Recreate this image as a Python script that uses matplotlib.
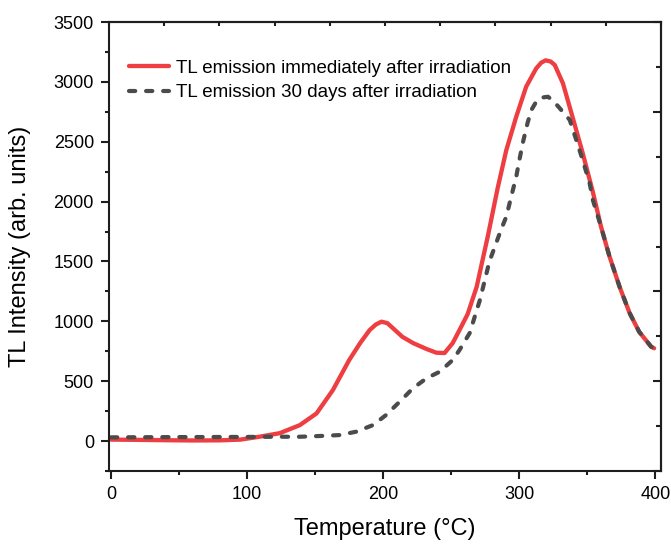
import matplotlib
matplotlib.use("Agg")
import matplotlib.pyplot as plt
from matplotlib.ticker import MultipleLocator, FixedLocator

plt.rcParams['font.family'] = ['Liberation Sans', 'DejaVu Sans']

# Series 1: TL emission immediately after irradiation
t_red = [0, 20, 40, 60, 80, 95, 109, 124, 138.7, 151, 163, 175, 183, 190, 194.5, 198.7,
         203, 207, 214, 222, 232, 239, 245, 251, 256, 262, 268.6, 277, 284, 290.4, 297.7,
         305, 312.4, 316, 319.3, 323, 326, 332, 339, 346.5, 354, 360, 366, 373.6, 381,
         388, 396.8, 399]
i_red = [12, 10, 7, 5, 6, 12, 36, 66, 133, 231, 426, 677, 818, 927, 973, 997,
         985, 944, 871, 818, 768, 738, 735, 818, 927, 1060, 1287, 1720, 2110, 2430, 2709,
         2960, 3113, 3160, 3180, 3170, 3141, 2988, 2709, 2406, 2080, 1790, 1550, 1289, 1069,
         913, 788, 775]

# Series 2: TL emission 30 days after irradiation
t_gray = [0, 40, 80, 109, 124, 138.7, 153, 168, 180, 192.6, 202, 212, 222, 232, 241.5,
          251, 256, 263.5, 271, 278, 286.7, 290.4, 294, 297.7, 300, 302.5, 306, 308.8,
          312.4, 316, 321, 325, 329.5, 337, 341.8, 346.5, 351.6, 354, 360, 366, 373.6,
          381, 388, 396.8, 399]
i_gray = [31, 33, 34, 35, 36, 36, 42, 50, 78, 134, 217, 328, 443, 526, 579,
          677, 760, 902, 1178, 1500, 1770, 1874, 2041, 2208, 2347, 2490, 2656, 2765,
          2835, 2868, 2876, 2840, 2782, 2682, 2515, 2347, 2155, 2013, 1790, 1550, 1289,
          1069, 913, 788, 775]

labels = ['TL emission immediately after irradiation', 'TL emission 30 days after irradiation']

X0, X1 = -1.5, 404
Y0, Y1 = -250, 3500

fig = plt.figure(figsize=(6.71, 5.45), dpi=100)
ax = fig.add_axes([0.1624, 0.1358, 0.8226, 0.8238])

ax.plot(t_red, i_red, color='#ee3e41', lw=3.1, label=labels[0],
        solid_capstyle='round', solid_joinstyle='round')
ax.plot(t_gray, i_gray, color='#4b4b4b', lw=3.0, dashes=(1.5, 2.6), label=labels[1],
        dash_capstyle='round', dash_joinstyle='round')

ax.set_xlim(X0, X1)
ax.set_ylim(Y0, Y1)
ax.xaxis.set_major_locator(MultipleLocator(100))
ax.xaxis.set_minor_locator(MultipleLocator(50))
ax.yaxis.set_major_locator(MultipleLocator(500))
ax.yaxis.set_minor_locator(MultipleLocator(250))

for s in ax.spines.values():
    s.set_linewidth(1.5)
    s.set_color('#1e1e1e')

ax.tick_params(which='both', direction='out', width=1.5, colors='#1e1e1e', labelsize=13,
               labelcolor='black', pad=5)
ax.tick_params(which='major', length=5.8)
ax.tick_params(which='minor', length=3)

# mirrored axes on top and right: ticks divide each spine into ten equal parts
fr = [i / 10 for i in range(11)]
axt = ax.secondary_xaxis('top', functions=(lambda x: (x - X0) / (X1 - X0),
                                            lambda f: X0 + f * (X1 - X0)))
axt.xaxis.set_major_locator(FixedLocator(fr))
axt.tick_params(direction='in', length=3.2, width=1.5, labeltop=False, colors='#1e1e1e')
axt.spines['top'].set_linewidth(1.5)

axr = ax.secondary_yaxis('right', functions=(lambda y: (y - Y0) / (Y1 - Y0),
                                              lambda f: Y0 + f * (Y1 - Y0)))
axr.yaxis.set_major_locator(FixedLocator(fr[::2]))
axr.yaxis.set_minor_locator(FixedLocator(fr[1::2]))
axr.tick_params(which='both', direction='in', width=1.5, labelright=False, colors='#1e1e1e')
axr.tick_params(which='major', length=5.8)
axr.tick_params(which='minor', length=3.6)
axr.spines['right'].set_linewidth(1.5)

ax.set_xlabel('Temperature (\u00b0C)', fontsize=17, labelpad=11)
ax.set_ylabel('TL Intensity (arb. units)', fontsize=17, labelpad=16)

ax.legend(loc='upper left', bbox_to_anchor=(0.023, 0.933), frameon=False, fontsize=13.5,
          handlelength=2.13, handletextpad=0.37, labelspacing=0.4, borderaxespad=0.0)

fig.savefig('out.png', dpi=100)
